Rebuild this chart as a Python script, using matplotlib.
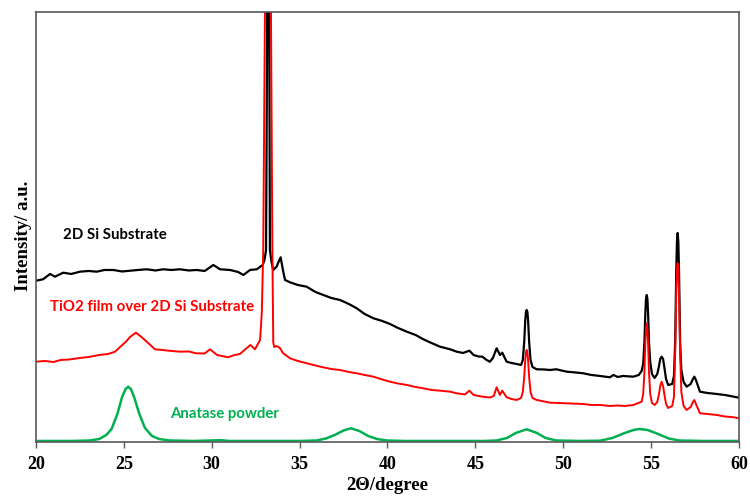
import matplotlib
matplotlib.use("Agg")
import matplotlib.pyplot as plt

# XRD patterns (2theta in degree, intensity in arbitrary units)
si_theta = [20.0, 20.4, 20.8, 21.08, 21.55, 22.0, 22.5, 23.0, 23.45, 23.9, 24.4, 24.9, 25.35, 25.8,
            26.3, 26.8, 27.24, 27.7, 28.19, 28.7, 29.14, 29.6, 30.09, 30.47, 31.04, 31.5, 31.8, 32.18,
            32.56, 32.9, 33.0, 33.09, 33.16, 33.215, 33.27, 33.31, 33.4, 33.5, 33.69, 33.8, 33.92,
            34.05, 34.17, 34.45, 34.9, 35.4, 35.9, 36.35, 36.8, 37.3, 37.8, 38.25, 38.7, 39.2, 39.7,
            40.14, 40.6, 41.1, 41.6, 42.04, 42.5, 42.99, 43.56, 43.94, 44.3, 44.66, 44.9, 45.17, 45.4,
            45.64, 45.83, 46.0, 46.21, 46.4, 46.53, 46.78, 47.05, 47.35, 47.6, 47.7, 47.78, 47.84,
            47.88, 47.92, 47.96, 48.0, 48.06, 48.14, 48.25, 48.49, 48.9, 49.25, 49.6, 50.2, 50.7,
            51.13, 51.6, 52.1, 52.66, 52.85, 53.1, 53.4, 53.99, 54.3, 54.46, 54.55, 54.62, 54.67,
            54.71, 54.75, 54.79, 54.83, 54.88, 54.95, 55.05, 55.2, 55.35, 55.45, 55.52, 55.6, 55.68,
            55.76, 55.85, 55.97, 56.2, 56.3, 56.37, 56.43, 56.47, 56.51, 56.55, 56.59, 56.65, 56.72,
            56.85, 57.02, 57.25, 57.38, 57.46, 57.55, 57.78, 58.2, 58.73, 59.2, 59.7, 60.0]
si_int = [161.3, 162.7, 168, 165.3, 169.3, 168, 170.3, 171, 170.3, 172, 172, 170.5, 171.3, 172,
          172.7, 171.5, 172.7, 172, 172.7, 171.5, 172, 171, 177, 172.7, 172, 170, 167, 172,
          172.7, 177, 182, 192, 430, 1500, 430, 192, 180, 172, 175.3, 180, 184.7,
          172, 162, 159.7, 157, 155.3, 150, 147, 144, 142, 138, 133.7, 128, 123.7, 121,
          118, 114, 110.3, 107, 102.7, 99, 95.3, 92.7, 90.3, 89, 91.3, 87, 85.5, 85.3,
          82, 80.3, 84, 93.7, 87, 89.3, 80.3, 79, 78, 77, 82, 100, 122,
          130, 132, 130, 122, 100, 82, 75, 72.7, 72.5, 72, 72.7, 70.3, 69.5,
          68.7, 67, 66, 64.7, 67, 65, 66, 65.3, 67, 71, 78, 100, 128,
          143, 147, 143, 128, 100, 80, 68, 64, 68, 76, 83, 85.3, 83,
          74, 63, 57, 58, 66, 100, 170, 200, 209, 200, 170, 100, 72,
          60, 55.3, 58, 63, 65.3, 62, 50.3, 49, 48, 47, 45.3, 44.3]

film_theta = [20.0, 20.5, 21.0, 21.4, 21.9, 22.5, 23.0, 23.6, 24.1, 24.5, 24.8, 25.1, 25.35, 25.69,
              26.0, 26.3, 26.77, 27.2, 27.7, 28.2, 28.7, 29.1, 29.6, 29.9, 30.3, 30.93, 31.3, 31.6,
              32.2, 32.46, 32.75, 32.85, 32.93, 33.03, 33.2, 33.37, 33.45, 33.5, 33.55, 33.69, 33.88,
              34.05, 34.45, 34.9, 35.4, 35.9, 36.33, 36.8, 37.3, 37.8, 38.25, 38.7, 39.2, 39.7, 40.14,
              40.6, 41.1, 41.6, 42.04, 42.5, 43.0, 43.56, 43.94, 44.4, 44.66, 44.9, 45.4, 45.83, 46.05,
              46.21, 46.4, 46.53, 46.78, 47.05, 47.35, 47.6, 47.7, 47.78, 47.84, 47.88, 47.92, 47.96,
              48.0, 48.06, 48.14, 48.25, 48.49, 48.9, 49.25, 49.7, 50.2, 50.7, 51.13, 51.6, 52.1, 52.66,
              53.1, 53.5, 53.99, 54.46, 54.55, 54.62, 54.67, 54.71, 54.75, 54.79, 54.83, 54.88, 54.95,
              55.05, 55.2, 55.35, 55.45, 55.52, 55.6, 55.68, 55.76, 55.85, 55.97, 56.2, 56.3, 56.37,
              56.43, 56.47, 56.51, 56.55, 56.59, 56.65, 56.72, 56.85, 57.02, 57.25, 57.38, 57.46, 57.55,
              57.78, 58.2, 58.73, 59.2, 59.7, 60.0]
film_int = [80.3, 81, 80, 82, 82.5, 84, 85, 87, 88, 90.3, 95.3, 100, 105, 109.3,
            105, 100.3, 92.7, 92, 91, 90.3, 90.5, 88.7, 88.5, 92.7, 87, 84.7, 87, 88,
            97, 92.7, 102, 130, 192, 430, 1400, 430, 192, 100, 95, 96, 94,
            89, 83.7, 81, 78.7, 76.5, 74.7, 73, 72, 70, 68.7, 67, 65.3, 62.5, 60.3,
            58.5, 57, 55, 53.7, 52, 51.3, 50.3, 48.7, 47.5, 51.3, 47, 45.3, 44.5, 46,
            54.7, 47, 51.3, 44.7, 43, 42, 44, 50, 65, 82, 90, 92, 90,
            82, 65, 50, 44, 42, 40.5, 39.3, 39, 38.7, 38.3, 38, 37, 37, 36,
            36.5, 36, 37, 40.3, 48, 70, 98, 114, 118.7, 114, 98, 70, 48,
            39, 37, 40, 48, 56, 60.3, 56, 47, 38, 34, 36, 45, 90,
            150, 172, 178.7, 172, 150, 90, 50, 36, 32, 35, 40, 42, 38,
            28.7, 28, 27, 25.5, 24.7, 23.7]

anatase_theta = [20.0, 22.0, 23.07, 23.6, 24.0, 24.3, 24.63, 24.9, 25.1, 25.25, 25.4, 25.6, 25.88,
                 26.2, 26.6, 27.0, 27.6, 29.0, 30.5, 31.0, 35.0, 35.97, 36.5, 37.0, 37.5, 37.92,
                 38.4, 38.9, 39.4, 39.95, 41.0, 45.5, 46.2, 46.8, 47.3, 47.92, 48.5, 49.0, 49.6,
                 51.0, 52.1, 52.8, 53.5, 54.0, 54.33, 54.8, 55.4, 56.0, 56.6, 58.0, 60.0]
anatase_int = [1, 1, 1.5, 3, 7, 13, 28, 45, 53, 55.3, 53, 44, 28,
               14, 6, 3, 1.5, 1, 1.8, 1, 1, 1.5, 3.5, 7, 11.5, 13.7,
               11, 6, 3, 1.5, 1, 1, 1.5, 4, 9, 12.7, 9, 4, 1.5,
               1, 1.3, 4, 9, 12, 13, 12, 8, 3.5, 1.5, 1, 1]

fig = plt.figure(figsize=(7.5, 4.97), dpi=100)
ax = fig.add_axes([0.048, 0.1107, 0.9373, 0.8652])

ax.plot(si_theta, si_int, color='black', lw=1.6)
ax.plot(film_theta, film_int, color='#ff0000', lw=1.4)
ax.plot(anatase_theta, anatase_int, color='#00b050', lw=1.8)

ax.set_xlim(20, 60)
ax.set_ylim(0, 430)
ax.set_xticks(range(20, 61, 5))
ax.set_yticks([])
ax.tick_params(axis='x', direction='out', length=4, width=1, color='#595959', pad=6)
for lab in ax.get_xticklabels():
    lab.set_fontfamily('Liberation Serif')
    lab.set_fontweight('bold')
    lab.set_fontsize(13)
for s in ax.spines.values():
    s.set_color('#595959')
    s.set_linewidth(1.2)

ax.set_xlabel('2Θ/degree', fontfamily='Liberation Serif', fontweight='bold', fontsize=13.5, labelpad=3)
ax.set_ylabel('Intensity/ a.u.', fontfamily='Liberation Serif', fontweight='bold', fontsize=13.5)
ax.yaxis.set_label_coords(-0.006, 0.479)

lbl = dict(fontfamily='Lato', fontweight='bold', fontsize=10.8, va='center', ha='left')
ax.text(21.55, 442 - 235, '2D Si Substrate', color='black', **lbl)
ax.text(20.8, 442 - 306.7, 'TiO2 film over 2D Si Substrate', color='#ff0000', **lbl)
ax.text(27.65, 442 - 414, 'Anatase powder', color='#00b050', **lbl)

fig.savefig('out.png', dpi=100)
